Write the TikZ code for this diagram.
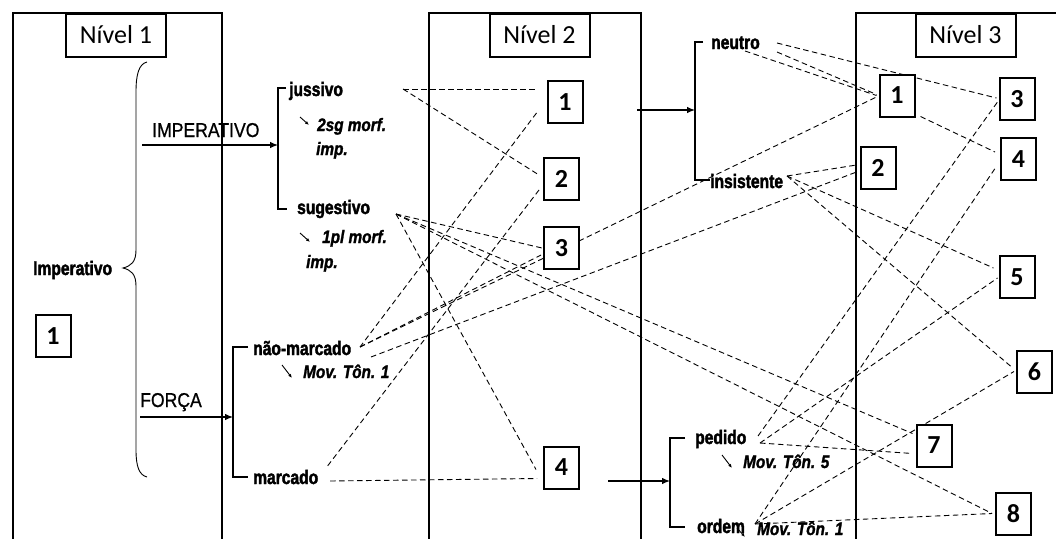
\documentclass[tikz,border=0pt]{standalone}
\usepackage{fontspec}
\usetikzlibrary{arrows.meta,calc}
\newfontfamily\lblfont{Liberation Sans}[FakeStretch=0.8, FakeBold=2]
\newfontfamily\glossfont{Liberation Sans}[FakeStretch=0.85, FakeBold=1.5]
\newfontfamily\capfont{Liberation Sans}[FakeStretch=0.88, FakeBold=0.8]
\newfontfamily\titlefont{Carlito}
\newfontfamily\numfont{Carlito}
\pgfdeclarelayer{links}
\pgfsetlayers{links,main}
\tikzset{
  colline/.style={line width=2.4pt, line join=miter},
  titlebox/.style={draw, line width=2pt, fill=white, minimum width=100pt, minimum height=43pt, inner sep=0pt, font=\titlefont\fontsize{26}{30}\selectfont},
  numbox/.style={draw, line width=2pt, fill=white, minimum width=35pt, minimum height=42pt, inner sep=0pt, font=\numfont\bfseries\fontsize{26}{28}\selectfont},
  term/.style={anchor=base west, inner sep=0pt, font=\lblfont\bfseries\fontsize{19.5}{22}\selectfont},
  gloss/.style={anchor=base west, inner sep=0pt, font=\glossfont\bfseries\itshape\fontsize{18}{20}\selectfont},
  cat/.style={anchor=base west, inner sep=0pt, font=\capfont\fontsize{20}{22}\selectfont},
  link/.style={dash pattern=on 5.5pt off 3.5pt, line width=0.9pt},
  branch/.style={line width=1.1pt},
  mainarrow/.style={line width=1.1pt, -{Latex[length=8pt,width=6.5pt]}},
  hint/.style={line width=0.9pt, -{Latex[length=4pt,width=3.2pt]}},
}
\begin{document}
\begin{tikzpicture}[x=1pt,y=-1pt]
\useasboundingbox (0,0) rectangle (1056,538);

% numbered boxes
\node[numbox] (b11) at (53,336) {1};
\node[numbox] (b21) at (565,102) {1};
\node[numbox] (b22) at (561.5,179) {2};
\node[numbox] (b23) at (561.5,248) {3};
\node[numbox] (b24) at (561.5,467.5) {4};
\node[numbox] (b31) at (897,95.5) {1};
\node[numbox] (b32) at (878,168) {2};
\node[numbox] (b33) at (1017,99) {3};
\node[numbox] (b34) at (1018.5,159) {4};
\node[numbox] (b35) at (1017,277) {5};
\node[numbox] (b36) at (1034.5,371.5) {6};
\node[numbox] (b37) at (934,445.5) {7};
\node[numbox] (b38) at (1013.5,513.5) {8};

% level titles
\node[titlebox] (t1) at (116,35) {Nível 1};
\node[titlebox] (t2) at (539.5,35) {Nível 2};
\node[titlebox] (t3) at (965.5,35) {Nível 3};

% terms
\node[term] (imperativo) at (33,275) {Imperativo};
\node[cat] (catimp) at (152,137) {IMPERATIVO};
\node[cat] (catforca) at (140,407) {FORÇA};
\node[term] (jussivo) at (289,96) {jussivo};
\node[gloss] (g2sg) at (317,131) {2sg morf.};
\node[gloss] (g2imp) at (316,155) {imp.};
\node[term] (sugestivo) at (297,214) {sugestivo};
\node[gloss] (g1pl) at (322,243) {1pl morf.};
\node[gloss] (g1imp) at (306,268) {imp.};
\node[term] (naomarcado) at (253,355) {não-marcado};
\node[gloss] (gmt1) at (303,378) {Mov. Tôn. 1};
\node[term] (marcado) at (253,484) {marcado};
\node[term] (neutro) at (711,49) {neutro};
\node[term] (insistente) at (710,188) {insistente};
\node[term] (pedido) at (695,444) {pedido};
\node[gloss] (gmt5) at (743,468) {Mov. Tôn. 5};
\node[term] (ordem) at (697,533) {ordem};
\node[gloss] (gmt1b) at (757,535) {Mov. Tôn. 1};

% line ends beside the terms
\coordinate (jusE) at (403,89);
\coordinate (sugE) at (396,214);
\coordinate (naoE) at (360,347);
\coordinate (naoSE) at (371,357);
\coordinate (marN) at (326,468);
\coordinate (marE) at (330,481);
\coordinate (neuA) at (777,43);
\coordinate (neuB) at (777,52);
\coordinate (neuC) at (745,51);
\coordinate (insE) at (787,176);
\coordinate (pedA) at (758,436);
\coordinate (pedB) at (760,443);
\coordinate (ordE) at (755,524);

% arrow starts and bracket targets
\coordinate (impS) at (142,145);
\coordinate (impT) at (278,145);
\coordinate (forS) at (140,417);
\coordinate (forT) at (233,417);
\coordinate (lvA) at (637,110);
\coordinate (lvAT) at (695,110);
\coordinate (lvB) at (608,481);
\coordinate (lvBT) at (670,481);

\begin{pgfonlayer}{links}
% level columns
\draw[colline] (13,545) -- (13,13) -- (222,13) -- (222,545);
\draw[colline] (429,545) -- (429,13) -- (641,13) -- (641,545);
\draw[colline] (856,545) -- (856,13) -- (1060,13);

% brace of the first level
\draw[line width=0.9pt] (147,62) .. controls (139,64) and (136,74) .. (136,92)
  -- (136,250) .. controls (136,262) and (131,266) .. (123,268)
  .. controls (131,270) and (136,274) .. (136,286)
  -- (136,450) .. controls (136,466) and (139,475) .. (147,477);

% main arrows and brackets
\draw[mainarrow] (impS) -- (impT);
\draw[mainarrow] (forS) -- (forT);
\draw[mainarrow] (lvA) -- (lvAT);
\draw[mainarrow] (lvB) -- (lvBT);
\draw[branch] (286,88) -- (278,88) -- (278,209) -- (287,209);
\draw[branch] (248,347) -- (233,347) -- (233,477) -- (248,477);
\draw[branch] (703,42) -- (695,42) -- (695,180) -- (710,180);
\draw[branch] (685,438) -- (670,438) -- (670,527) -- (685,527);

% small hint arrows
\draw[hint] (300,117) -- (309,125);
\draw[hint] (300,233) -- (310,242);
\draw[hint] (282,365) -- (292,378);
\draw[hint] (722,455) -- (732,468);
\draw[hint] (737,528) -- (745,537);

% dashed links
\draw[link] (jusE) -- ($(b21.west)+(-10,-13)$);
\draw[link] (jusE) -- ($(b22.west)+(-4,-4)$);
\draw[link] ($(b21.west)+(-10,11)$) -- (naoE);
\draw[link] ($(b22.west)+(-4,11)$) -- (marN);
\draw[link] (sugE) -- ($(b23.west)+(-1,0)$);
\draw[link] (sugE) -- ($(b24.west)+(-7,2)$);
\draw[link] (sugE) -- ($(b37.west)+(-3,-12)$);
\draw[link] (sugE) -- ($(b38.west)+(-3,0)$);
\draw[link] (naoE) -- ($(b23.west)+(-2,7)$);
\draw[link] (naoE) -- ($(b31.west)+(-1,1)$);
\draw[link] (naoSE) -- ($(b32.west)+(-3,4)$);
\draw[link] (marE) -- ($(b24.west)+(-6,11)$);
\draw[link] (insE) -- ($(b32.west)+(-3,-3)$);
\draw[link] (insE) -- ($(b35.west)+(-5,-9)$);
\draw[link] (insE) -- ($(b36.west)+(-5,-5)$);
\draw[link] (neuA) -- ($(b33.west)+(-2,-1)$);
\draw[link] (neuB) -- ($(b31.west)+(-2,-1)$);
\draw[link] (neuC) -- ($(b31.west)+(-2,0)$);
\draw[link] ($(b31.south east)+(5,-1)$) -- ($(b34.west)+(-5,-7)$);
\draw[link] (pedA) -- ($(b33.west)+(-1,3)$);
\draw[link] (pedB) -- ($(b35.west)+(-1,1)$);
\draw[link] (pedB) -- ($(b37.west)+(-3,8)$);
\draw[link] (ordE) -- ($(b34.west)+(-4,8)$);
\draw[link] (ordE) -- ($(b36.west)+(-2,0)$);
\draw[link] (ordE) -- ($(b38.west)+(-3,0)$);
\end{pgfonlayer}
\end{tikzpicture}
\end{document}
